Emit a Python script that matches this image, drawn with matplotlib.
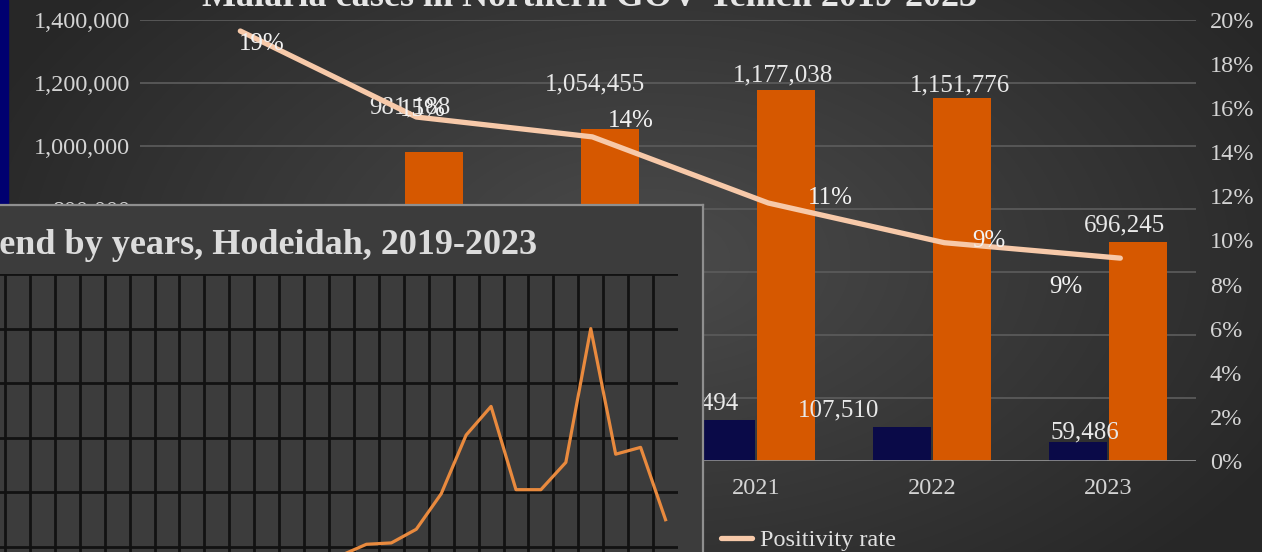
import numpy as np
import matplotlib.pyplot as plt
from matplotlib.patches import Rectangle

plt.rcParams['font.family'] = ['Liberation Serif', 'DejaVu Serif']

# main chart data
years = ['2018', '2019', '2020', '2021', '2022', '2023']
positive = [np.nan, np.nan, np.nan, 130494, 107510, 59486]
tested = [np.nan, 981188, 1054455, 1177038, 1151776, 696245]
rate = [19.5, 15.6, 14.7, 11.7, 9.9, 9.2]
rate_labels = ['19%', '15%', '14%', '11%', '9%', '9%']
left_ticks = [0, 200000, 400000, 600000, 800000, 1000000, 1200000, 1400000]
right_ticks = [0, 2, 4, 6, 8, 10, 12, 14, 16, 18, 20]

# inset (Hodeidah trend), only the visible part
trend = [1700, 2100, 2150, 2650, 3950, 6100, 7150, 4100, 4100, 5100, 10000, 5400, 5650, 3000]

W, H = 1262, 552
fig = plt.figure(figsize=(W / 100, H / 100), dpi=100)

def px(x, y, w, h):
    # pixel box (top-left origin) -> figure fraction
    return [x / W, 1 - (y + h) / H, w / W, h / H]

# background gradient
bg = fig.add_axes([0, 0, 1, 1], zorder=-10)
gx, gy = np.meshgrid(np.arange(W), np.arange(H))
d = np.sqrt(((gx - 650) / 720.0) ** 2 + ((gy - 260) / 430.0) ** 2)
g = (0x4b - (0x4b - 0x27) * np.clip(d, 0, 1)) / 255.0
bg.imshow(np.dstack([g, g, g]), extent=[0, 1, 0, 1], aspect='auto', origin='upper')
bg.add_patch(Rectangle((0, 1 - 205 / H), 8 / W, 205 / H, color='#000070'))
bg.set_xlim(0, 1)
bg.set_ylim(0, 1)
bg.axis('off')

fig.text(590 / W, 1 - 6 / H, 'Malaria cases in Northern GOV-Yemen 2019-2023',
         ha='center', va='baseline', fontsize=26, fontweight='bold', color='#e6e6e6')

ax = fig.add_axes(px(140, 20, 1056, 441))
ax.set_facecolor('none')
x = np.arange(len(years))
bw = 0.33
ax.bar(x - 0.17, positive, bw, color='#0a0a48', zorder=3)
ax.bar(x + 0.17, tested, bw, color='#d65800', zorder=3)
ax.set_xlim(-0.5, len(years) - 0.5)
ax.set_ylim(0, 1400000)
ax.set_yticks(left_ticks)
ax.set_yticklabels([f'{v:,}' for v in left_ticks])
ax.set_xticks(x)
ax.set_xticklabels(years)
ax.tick_params(length=0, labelsize=17.5, colors='#d4d4d4')
ax.tick_params(axis='y', pad=7)
ax.tick_params(axis='x', pad=12)
ax.grid(axis='y', color='#5a5a5a', lw=1.3, zorder=0)
for s in ax.spines.values():
    s.set_visible(False)
ax.axhline(0, color='#8c8c8c', lw=2, zorder=4)

k = 72 / 100  # px -> pt
pos_off = [(0, 0), (0, 0), (0, 0), (-28, 16), (-64, 17), (7, 10)]
test_off = [(0, 0), (-24, 44), (-15, 44), (-3, 15), (-2, 13), (-13, 16)]
for i in range(len(years)):
    if not np.isnan(positive[i]):
        ax.annotate(f'{positive[i]:,}', (x[i] - 0.17, positive[i]),
                    xytext=(pos_off[i][0] * k, pos_off[i][1] * k), textcoords='offset points',
                    ha='center', va='center', fontsize=18, color='#e8e8e8', zorder=5)
    if not np.isnan(tested[i]):
        ax.annotate(f'{tested[i]:,}', (x[i] + 0.17, tested[i]),
                    xytext=(test_off[i][0] * k, test_off[i][1] * k), textcoords='offset points',
                    ha='center', va='center', fontsize=18, color='#e8e8e8', zorder=5)

ax2 = ax.twinx()
ax2.set_ylim(0, 20)
ax2.set_yticks(right_ticks)
ax2.set_yticklabels([f'{v}%' for v in right_ticks])
ax2.tick_params(length=0, labelsize=17.5, colors='#d4d4d4', pad=10)
for s in ax2.spines.values():
    s.set_visible(False)
line, = ax2.plot(x + 0.07, rate, color='#f7c9a9', lw=3.8, solid_capstyle='round', zorder=6)
rate_off = [(21, -13), (6, 7), (38, 16), (62, 5), (45, 2), (-54, -29)]
for i in range(len(years)):
    ax2.annotate(rate_labels[i], (x[i] + 0.07, rate[i]),
                 xytext=(rate_off[i][0] * k, rate_off[i][1] * k), textcoords='offset points',
                 ha='center', va='center', fontsize=18, color='#f2f2f2', zorder=7)

fig.legend([line], ['Positivity rate'], loc='center left',
           bbox_to_anchor=(699 / W, 1 - 540 / H), frameon=False, fontsize=17.5,
           handlelength=1.3, handletextpad=0.3, labelcolor='#e0e0e0')

# overlapping slide panel
panel = fig.add_axes(px(0, 205, 703, 347), zorder=10)
panel.set_facecolor('#3c3c3c')
panel.set_xticks([])
panel.set_yticks([])
for name, s in panel.spines.items():
    s.set_visible(name in ('top', 'right'))
    s.set_color('#8f8f8f')
    s.set_linewidth(1.6)

fig.text(537 / W, 1 - 254 / H, 'Malaria trend by years, Hodeidah, 2019-2023',
         ha='right', va='baseline', fontsize=26, fontweight='bold', color='#dcdcdc', zorder=12)

ax_in = fig.add_axes(px(0, 274, 678, 278), zorder=11)
ax_in.patch.set_alpha(0)
ax_in.plot(np.arange(len(trend)), trend, color='#e98a3e', lw=2.3, zorder=3)
ax_in.set_xlim(-13.7, 13.5)
ax_in.set_ylim(1817, 12000)
ax_in.set_xticks(np.arange(-13.5, 13, 1))
ax_in.set_yticks(np.arange(2000, 12001, 2000))
ax_in.tick_params(length=0, labelbottom=False, labelleft=False)
ax_in.grid(True, color='#121212', lw=2.0, zorder=0)
for s in ax_in.spines.values():
    s.set_visible(False)

fig.savefig('out.png', dpi=100)
